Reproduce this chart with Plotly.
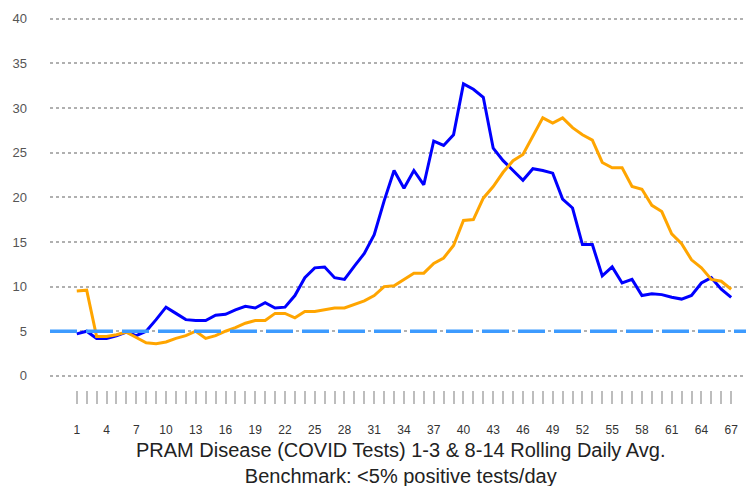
import plotly.graph_objects as go

days = list(range(1, 68))

blue_vals = [4.7, 5.0, 4.2, 4.2, 4.5, 4.9, 4.5, 5.0, 6.3, 7.7,
             7.0, 6.3, 6.2, 6.2, 6.8, 6.9, 7.4, 7.8, 7.6, 8.2,
             7.6, 7.7, 9.0, 11.0, 12.1, 12.2, 11.0, 10.8, 12.3, 13.7,
             15.8, 19.6, 23.0, 21.0, 23.0, 21.4, 26.3, 25.8, 27.0, 32.7,
             32.1, 31.2, 25.5, 24.1, 23.0, 21.9, 23.2, 23.0, 22.7, 19.8,
             18.8, 14.7, 14.7, 11.2, 12.2, 10.4, 10.8, 9.0, 9.2, 9.1,
             8.8, 8.6, 9.0, 10.4, 11.0, 9.7, 8.8]

orange_vals = [9.5, 9.6, 4.4, 4.4, 4.6, 4.9, 4.3, 3.7, 3.6, 3.8,
               4.2, 4.5, 5.0, 4.2, 4.5, 5.0, 5.4, 5.9, 6.2, 6.2,
               7.0, 7.0, 6.5, 7.2, 7.2, 7.4, 7.6, 7.6, 8.0, 8.4,
               9.0, 10.0, 10.1, 10.8, 11.5, 11.5, 12.6, 13.2, 14.6, 17.4,
               17.5, 19.9, 21.2, 22.8, 24.1, 24.8, 26.8, 28.9, 28.3, 28.9,
               27.8, 27.0, 26.4, 23.9, 23.3, 23.3, 21.2, 20.9, 19.1, 18.4,
               15.9, 14.8, 13.0, 12.1, 10.8, 10.6, 9.7]

benchmark = 5
x_tick_labels = [str(d) if (d - 1) % 3 == 0 else "" for d in days]
y_ticks = [0, 5, 10, 15, 20, 25, 30, 35, 40]
title_lines = ["PRAM Disease (COVID Tests) 1-3 & 8-14 Rolling Daily Avg.",
               "Benchmark: <5% positive tests/day"]

fig = go.Figure()
fig.add_trace(go.Scatter(x=days, y=blue_vals, mode="lines",
                         line=dict(color="#0000FF", width=3), showlegend=False))
fig.add_trace(go.Scatter(x=days, y=orange_vals, mode="lines",
                         line=dict(color="#FFA500", width=3), showlegend=False))
fig.add_trace(go.Scatter(x=[-1.7, 69.0], y=[benchmark, benchmark], mode="lines",
                         line=dict(color="#3D9BFF", width=3.5, dash="27px,9px"),
                         showlegend=False))

fig.update_layout(
    width=746, height=478,
    margin=dict(l=42, r=3, t=4, b=96),
    paper_bgcolor="white", plot_bgcolor="white",
    font=dict(family="Liberation Sans, Arial, sans-serif", color="#333333"),
    xaxis=dict(range=[-1.7, 69.0], tickmode="array", tickvals=days, ticktext=x_tick_labels,
               ticks="outside", ticklen=13, tickwidth=2, tickcolor="#bdbdbd",
               ticklabelstandoff=16, tickfont=dict(size=12, color="#333333"),
               showgrid=False, zeroline=False, showline=False),
    yaxis=dict(range=[-1.58, 40.3], tickmode="array", tickvals=y_ticks,
               showgrid=True, gridcolor="#b0b0b0", gridwidth=1.5, griddash="dot",
               zeroline=False, showline=False, ticks="", ticklabeloverflow="allow",
               ticklabelstandoff=22, tickfont=dict(size=13, color="#555555")),
    annotations=[dict(text="<br>".join(title_lines), xref="paper", yref="paper",
                      x=0.5, y=-0.194, xanchor="center", yanchor="middle",
                      showarrow=False, font=dict(size=20, color="#222222"))],
)

fig.write_html("out.html")
